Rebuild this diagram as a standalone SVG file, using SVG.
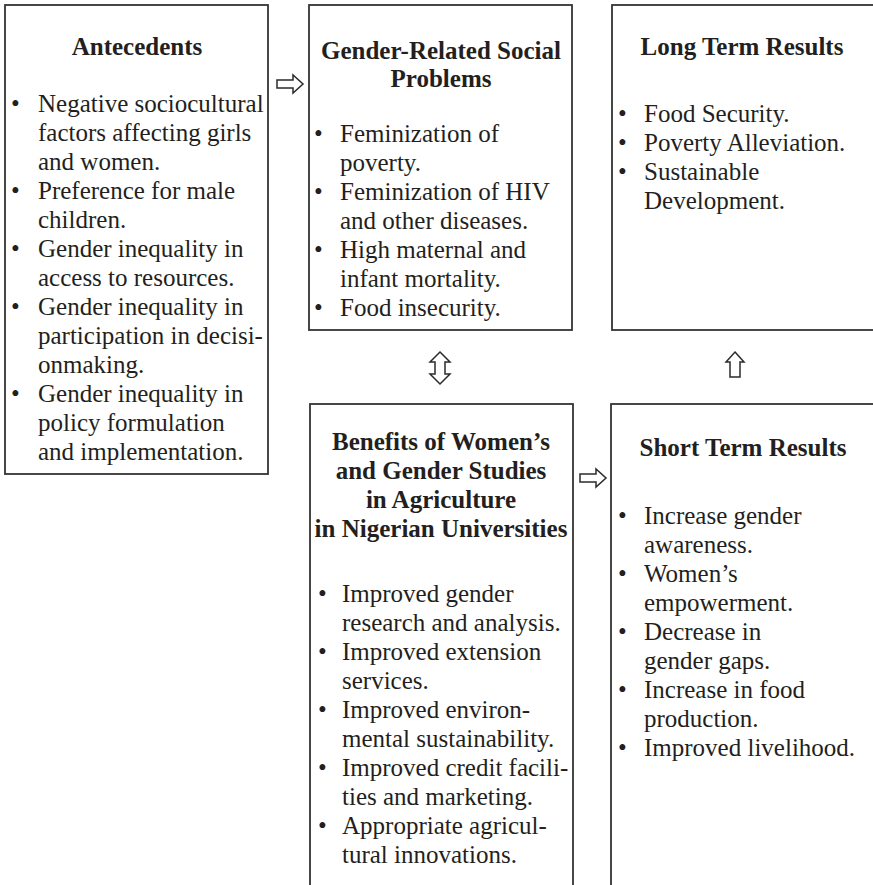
<svg xmlns="http://www.w3.org/2000/svg" width="873" height="885" viewBox="0 0 873 885">
<style>
.box{fill:#fff;stroke:#333;stroke-width:1.8}
.arr{fill:#fff;stroke:#2b2b2b;stroke-width:1.5;stroke-linejoin:miter}
text{font-family:"Liberation Serif","Times New Roman",serif;font-size:25px;fill:#231f20}
.t{font-weight:bold;text-anchor:middle}
</style>
<rect width="873" height="885" fill="#fff"/>
<g id="antecedents">
<rect class="box" x="5" y="5" width="263" height="469"/>
<text class="t" x="137" y="55">Antecedents</text>
<text x="11" y="112">•</text><text x="38" y="112">Negative sociocultural</text>
<text x="38" y="141">factors affecting girls</text>
<text x="38" y="170">and women.</text>
<text x="11" y="199">•</text><text x="38" y="199">Preference for male</text>
<text x="38" y="228">children.</text>
<text x="11" y="257">•</text><text x="38" y="257">Gender inequality in</text>
<text x="38" y="286">access to resources.</text>
<text x="11" y="315">•</text><text x="38" y="315">Gender inequality in</text>
<text x="38" y="344">participation in decisi-</text>
<text x="38" y="373">onmaking.</text>
<text x="11" y="402">•</text><text x="38" y="402">Gender inequality in</text>
<text x="38" y="431">policy formulation</text>
<text x="38" y="460">and implementation.</text>
</g>
<g id="problems">
<rect class="box" x="309" y="5" width="263" height="325"/>
<text class="t" x="441" y="59">Gender-Related Social</text>
<text class="t" x="441" y="87">Problems</text>
<text x="314" y="142">•</text><text x="340" y="142">Feminization of</text>
<text x="340" y="171">poverty.</text>
<text x="314" y="200">•</text><text x="340" y="200">Feminization of HIV</text>
<text x="340" y="229">and other diseases.</text>
<text x="314" y="258">•</text><text x="340" y="258">High maternal and</text>
<text x="340" y="287">infant mortality.</text>
<text x="314" y="316">•</text><text x="340" y="316">Food insecurity.</text>
</g>
<g id="long-term">
<rect class="box" x="612" y="5" width="270" height="325"/>
<text class="t" x="742" y="55">Long Term Results</text>
<text x="618" y="122">•</text><text x="644" y="122">Food Security.</text>
<text x="618" y="151">•</text><text x="644" y="151">Poverty Alleviation.</text>
<text x="618" y="180">•</text><text x="644" y="180">Sustainable</text>
<text x="644" y="209">Development.</text>
</g>
<g id="benefits">
<rect class="box" x="310" y="404" width="263" height="500"/>
<text class="t" x="441" y="450">Benefits of Women’s</text>
<text class="t" x="441" y="479">and Gender Studies</text>
<text class="t" x="441" y="508">in Agriculture</text>
<text class="t" x="441" y="537">in Nigerian Universities</text>
<text x="318" y="602">•</text><text x="342" y="602">Improved gender</text>
<text x="342" y="631">research and analysis.</text>
<text x="318" y="660">•</text><text x="342" y="660">Improved extension</text>
<text x="342" y="689">services.</text>
<text x="318" y="718">•</text><text x="342" y="718">Improved environ-</text>
<text x="342" y="747">mental sustainability.</text>
<text x="318" y="776">•</text><text x="342" y="776">Improved credit facili-</text>
<text x="342" y="805">ties and marketing.</text>
<text x="318" y="834">•</text><text x="342" y="834">Appropriate agricul-</text>
<text x="342" y="863">tural innovations.</text>
</g>
<g id="short-term">
<rect class="box" x="611" y="404" width="270" height="500"/>
<text class="t" x="743" y="456">Short Term Results</text>
<text x="618" y="524">•</text><text x="644" y="524">Increase gender</text>
<text x="644" y="553">awareness.</text>
<text x="618" y="582">•</text><text x="644" y="582">Women’s</text>
<text x="644" y="611">empowerment.</text>
<text x="618" y="640">•</text><text x="644" y="640">Decrease in</text>
<text x="644" y="669">gender gaps.</text>
<text x="618" y="698">•</text><text x="644" y="698">Increase in food</text>
<text x="644" y="727">production.</text>
<text x="618" y="756">•</text><text x="644" y="756">Improved livelihood.</text>
</g>
<g id="connectors">
<path class="arr" d="M277,80 H293 V75 L303,84 L293,93 V88 H277 Z"/>
<path class="arr" d="M580,474 H596 V469 L606,478 L596,487 V482 H580 Z"/>
<path class="arr" d="M440,352 L450,362 H445 V374 H450 L440,384 L430,374 H435 V362 H430 Z"/>
<path class="arr" d="M735,352 L744,362 H740 V377 H730 V362 H726 Z"/>
</g>
</svg>
